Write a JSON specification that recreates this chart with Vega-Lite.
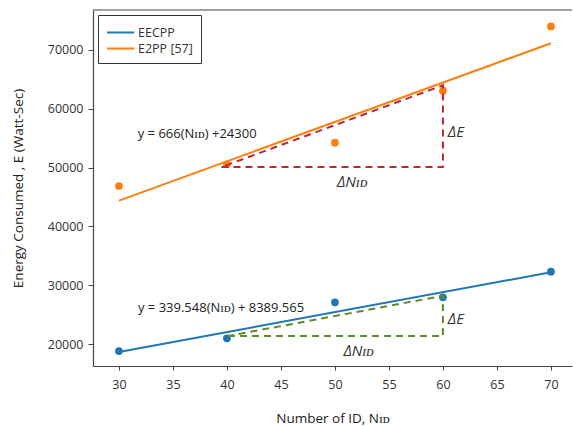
{
  "$schema": "https://vega.github.io/schema/vega-lite/v6.json",
  "width": 479,
  "height": 356,
  "autosize": {"type": "none"},
  "padding": {"left": 93, "top": 10, "right": 1, "bottom": 60},
  "config": {
    "view": {"stroke": null},
    "font": "Open Sans",
    "axis": {
      "domainColor": "#444",
      "domainWidth": 1.2,
      "tickColor": "#444",
      "labelColor": "#333",
      "titleColor": "#222",
      "labelFont": "Open Sans",
      "titleFont": "Open Sans",
      "titleFontWeight": "normal",
      "labelFontSize": 12.5,
      "titleFontSize": 13.5,
      "grid": false
    }
  },
  "layer": [
    {
      "data": {"values": [{"ytop": 76800}]},
      "mark": {"type": "rule", "color": "#444", "strokeWidth": 1.2},
      "encoding": {"y": {"field": "ytop", "type": "quantitative"}}
    },
    {
      "data": {"values": [
        {"series": "EECPP", "n": 30, "e": 18630},
        {"series": "EECPP", "n": 70, "e": 32210},
        {"series": "E2PP [57]", "n": 30, "e": 44380},
        {"series": "E2PP [57]", "n": 70, "e": 71150}
      ]},
      "mark": {"type": "line", "strokeWidth": 2},
      "encoding": {
        "x": {
          "field": "n", "type": "quantitative",
          "scale": {"domain": [27.6, 71.95], "nice": false, "zero": false},
          "axis": {
            "values": [30, 35, 40, 45, 50, 55, 60, 65, 70],
            "tickSize": 4, "labelPadding": 8,
            "title": "Number of ID, Nɪᴅ", "titlePadding": 21
          }
        },
        "y": {
          "field": "e", "type": "quantitative",
          "scale": {"domain": [16260, 76800], "nice": false, "zero": false},
          "axis": {
            "values": [20000, 30000, 40000, 50000, 60000, 70000],
            "format": "d", "tickSize": 5, "labelPadding": 5,
            "title": "Energy Consumed , E (Watt-Sec)", "titlePadding": 22
          }
        },
        "color": {
          "field": "series", "type": "nominal",
          "scale": {"domain": ["EECPP", "E2PP [57]"], "range": ["#1f77b4", "#ff7f0e"]},
          "legend": {
            "title": null, "orient": "none", "legendX": 5, "legendY": 5,
            "symbolType": "M-1,0L2.2,0", "symbolStrokeWidth": 2, "symbolSize": 289,
            "symbolFillColor": "transparent",
            "labelFontSize": 12.5, "labelColor": "#333", "labelFont": "Open Sans",
            "strokeColor": "#333", "padding": 8, "rowPadding": 0,
            "fillColor": "white", "cornerRadius": 0, "labelOffset": 13
          }
        }
      }
    },
    {
      "data": {"values": [
        {"series": "EECPP", "n": 30, "e": 18800},
        {"series": "EECPP", "n": 40, "e": 20970},
        {"series": "EECPP", "n": 50, "e": 27090},
        {"series": "EECPP", "n": 60, "e": 27940},
        {"series": "EECPP", "n": 70, "e": 32300},
        {"series": "E2PP [57]", "n": 30, "e": 46870},
        {"series": "E2PP [57]", "n": 40, "e": 50560},
        {"series": "E2PP [57]", "n": 50, "e": 54230},
        {"series": "E2PP [57]", "n": 60, "e": 63080},
        {"series": "E2PP [57]", "n": 70, "e": 74000}
      ]},
      "mark": {"type": "circle", "size": 60, "opacity": 1},
      "encoding": {
        "x": {"field": "n", "type": "quantitative"},
        "y": {"field": "e", "type": "quantitative"},
        "color": {"field": "series", "type": "nominal", "legend": null}
      }
    },
    {
      "data": {"values": [
        {"i": 1, "n": 39.5, "e": 50100},
        {"i": 2, "n": 60, "e": 50100},
        {"i": 3, "n": 60, "e": 64000},
        {"i": 4, "n": 39.5, "e": 50100}
      ]},
      "mark": {"type": "line", "color": "#c0272d", "strokeWidth": 2, "strokeDash": [7, 5]},
      "encoding": {
        "x": {"field": "n", "type": "quantitative"},
        "y": {"field": "e", "type": "quantitative"},
        "order": {"field": "i"}
      }
    },
    {
      "data": {"values": [
        {"i": 1, "n": 40.1, "e": 21360},
        {"i": 2, "n": 60, "e": 21360},
        {"i": 3, "n": 60, "e": 28200},
        {"i": 4, "n": 40.1, "e": 21360}
      ]},
      "mark": {"type": "line", "color": "#5b8c2a", "strokeWidth": 2, "strokeDash": [7, 5]},
      "encoding": {
        "x": {"field": "n", "type": "quantitative"},
        "y": {"field": "e", "type": "quantitative"},
        "order": {"field": "i"}
      }
    },
    {
      "data": {"values": [
        {"n": 31.74, "e": 55700, "label": "y = 666(Nɪᴅ) +24300"},
        {"n": 31.76, "e": 26070, "label": "y = 339.548(Nɪᴅ) + 8389.565"}
      ]},
      "mark": {"type": "text", "align": "left", "baseline": "middle", "fontSize": 13, "color": "#222"},
      "encoding": {
        "x": {"field": "n", "type": "quantitative"},
        "y": {"field": "e", "type": "quantitative"},
        "text": {"field": "label"}
      }
    },
    {
      "data": {"values": [
        {"n": 60.45, "e": 56100, "label": "ΔE"},
        {"n": 60.45, "e": 24200, "label": "ΔE"}
      ]},
      "mark": {"type": "text", "align": "left", "baseline": "middle", "fontSize": 15, "fontStyle": "italic", "color": "#333"},
      "encoding": {
        "x": {"field": "n", "type": "quantitative"},
        "y": {"field": "e", "type": "quantitative"},
        "text": {"field": "label"}
      }
    },
    {
      "data": {"values": [
        {"n": 51.6, "e": 47600, "label": "ΔNɪᴅ"},
        {"n": 52.2, "e": 18810, "label": "ΔNɪᴅ"}
      ]},
      "mark": {"type": "text", "align": "center", "baseline": "middle", "fontSize": 15, "fontStyle": "italic", "color": "#333"},
      "encoding": {
        "x": {"field": "n", "type": "quantitative"},
        "y": {"field": "e", "type": "quantitative"},
        "text": {"field": "label"}
      }
    }
  ]
}
